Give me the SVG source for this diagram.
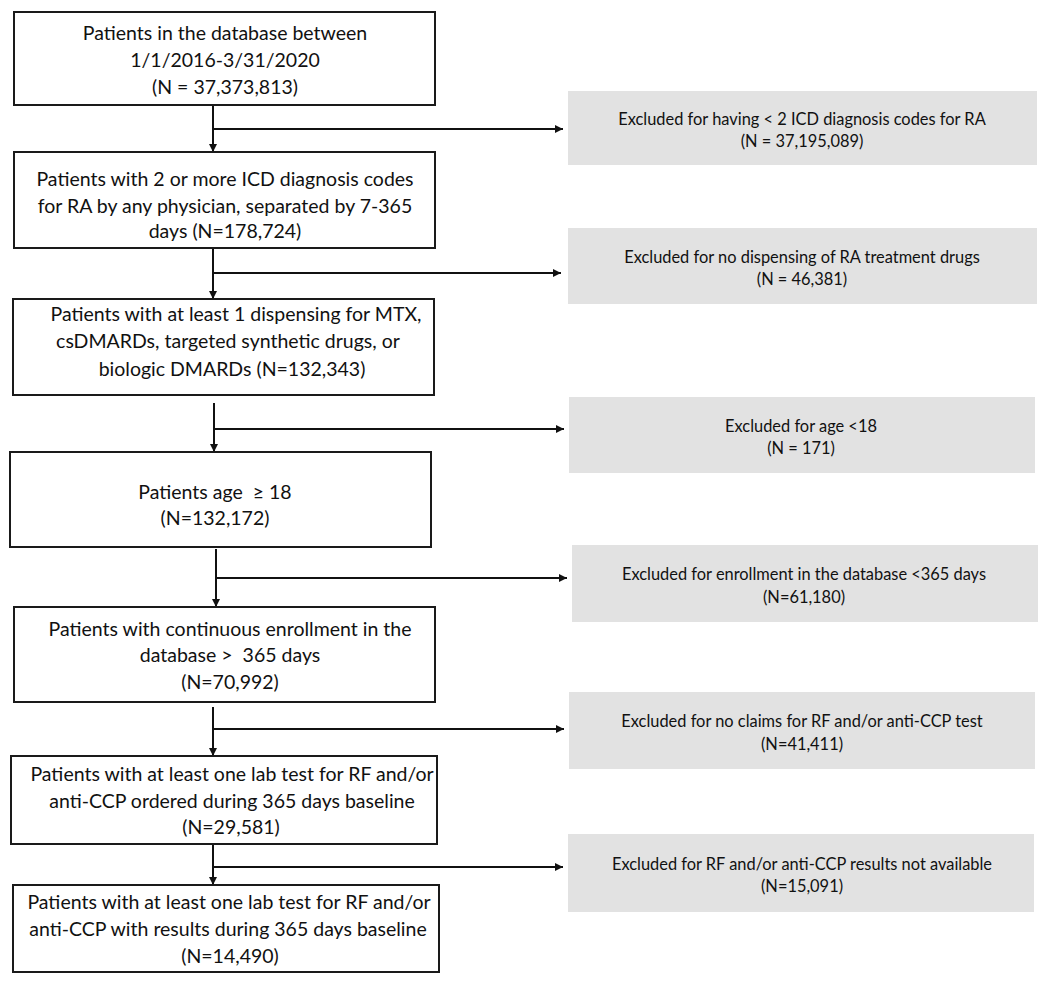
<svg xmlns="http://www.w3.org/2000/svg" width="1050" height="984" viewBox="0 0 1050 984">
<defs>
<style>
.box{fill:#fff;stroke:#1a1a1a;stroke-width:2}
.ex{fill:#e2e2e2;stroke:none}
.t{font-family:Lato,"Liberation Sans",sans-serif;font-size:19.5px;fill:#111;text-anchor:middle;white-space:pre}
.s{font-family:Lato,"Liberation Sans",sans-serif;font-size:16.4px;fill:#111;text-anchor:middle}
.v{stroke:#111;stroke-width:2;fill:none}
.h{stroke:#111;stroke-width:1.8;fill:none}
</style>
<marker id="ah" viewBox="0 0 10 10" refX="10" refY="5" markerWidth="8" markerHeight="8" markerUnits="userSpaceOnUse" orient="auto">
<path d="M0,0 L10,5 L0,10 Z" fill="#111"/>
</marker>
</defs>
<rect width="1050" height="984" fill="#fff"/>

<g id="connectors">
<path class="v" d="M213,105 V152" marker-end="url(#ah)"/>
<path class="h" d="M213,129 H563" marker-end="url(#ah)"/>
<path class="v" d="M213,248 V299" marker-end="url(#ah)"/>
<path class="h" d="M213,273 H561" marker-end="url(#ah)"/>
<path class="v" d="M214,403 V452" marker-end="url(#ah)"/>
<path class="h" d="M214,429 H564" marker-end="url(#ah)"/>
<path class="v" d="M216,549 V607" marker-end="url(#ah)"/>
<path class="h" d="M216,578 H567" marker-end="url(#ah)"/>
<path class="v" d="M213,707 V756" marker-end="url(#ah)"/>
<path class="h" d="M213,729 H564" marker-end="url(#ah)"/>
<path class="v" d="M213,844 V885" marker-end="url(#ah)"/>
<path class="h" d="M213,867 H563" marker-end="url(#ah)"/>
</g>

<g id="n1">
<rect class="box" x="14" y="12" width="421" height="93"/>
<text class="t" x="225" y="40">Patients in the database between</text>
<text class="t" x="225" y="67">1/1/2016-3/31/2020</text>
<text class="t" x="225" y="94">(N = 37,373,813)</text>
</g>
<g id="n2">
<rect class="box" x="14" y="152" width="421" height="96"/>
<text class="t" x="225" y="186">Patients with 2 or more ICD diagnosis codes</text>
<text class="t" x="225" y="213">for RA by any physician, separated by 7-365</text>
<text class="t" x="225" y="238">days (N=178,724)</text>
</g>
<g id="n3">
<rect class="box" x="13" y="299" width="421" height="96"/>
<text class="t" x="236" y="321">Patients with at least 1 dispensing for MTX,</text>
<text class="t" x="228" y="348">csDMARDs, targeted synthetic drugs, or</text>
<text class="t" x="232" y="376">biologic DMARDs (N=132,343)</text>
</g>
<g id="n4">
<rect class="box" x="10" y="452" width="421" height="95"/>
<text class="t" x="215" y="499">Patients age  ≥ 18</text>
<text class="t" x="215" y="525">(N=132,172)</text>
</g>
<g id="n5">
<rect class="box" x="14" y="607" width="421" height="95"/>
<text class="t" x="230" y="636">Patients with continuous enrollment in the</text>
<text class="t" x="230" y="662">database &gt;  365 days</text>
<text class="t" x="230" y="689">(N=70,992)</text>
</g>
<g id="n6">
<rect class="box" x="11" y="756" width="426" height="88"/>
<text class="t" x="232" y="781">Patients with at least one lab test for RF and/or</text>
<text class="t" x="232" y="808">anti-CCP ordered during 365 days baseline</text>
<text class="t" x="231" y="834">(N=29,581)</text>
</g>
<g id="n7">
<rect class="box" x="13" y="885" width="426" height="87"/>
<text class="t" x="229" y="909">Patients with at least one lab test for RF and/or</text>
<text class="t" x="228" y="936">anti-CCP with results during 365 days baseline</text>
<text class="t" x="230" y="963">(N=14,490)</text>
</g>

<g id="e1">
<rect class="ex" x="568" y="91" width="469" height="74"/>
<text class="s" x="802" y="124.5">Excluded for having &lt; 2 ICD diagnosis codes for RA</text>
<text class="s" x="802" y="147">(N = 37,195,089)</text>
</g>
<g id="e2">
<rect class="ex" x="568" y="228" width="469" height="76"/>
<text class="s" x="802" y="262.5">Excluded for no dispensing of RA treatment drugs</text>
<text class="s" x="802" y="285">(N = 46,381)</text>
</g>
<g id="e3">
<rect class="ex" x="569" y="397" width="466" height="76"/>
<text class="s" x="801" y="431.5">Excluded for age &lt;18</text>
<text class="s" x="801" y="454">(N = 171)</text>
</g>
<g id="e4">
<rect class="ex" x="572" y="545" width="466" height="77"/>
<text class="s" x="804" y="580">Excluded for enrollment in the database &lt;365 days</text>
<text class="s" x="804" y="602.5">(N=61,180)</text>
</g>
<g id="e5">
<rect class="ex" x="569" y="692" width="466" height="77"/>
<text class="s" x="802" y="727">Excluded for no claims for RF and/or anti-CCP test</text>
<text class="s" x="802" y="749.5">(N=41,411)</text>
</g>
<g id="e6">
<rect class="ex" x="568" y="834" width="466" height="78"/>
<text class="s" x="802" y="869.5">Excluded for RF and/or anti-CCP results not available</text>
<text class="s" x="802" y="892">(N=15,091)</text>
</g>
</svg>
